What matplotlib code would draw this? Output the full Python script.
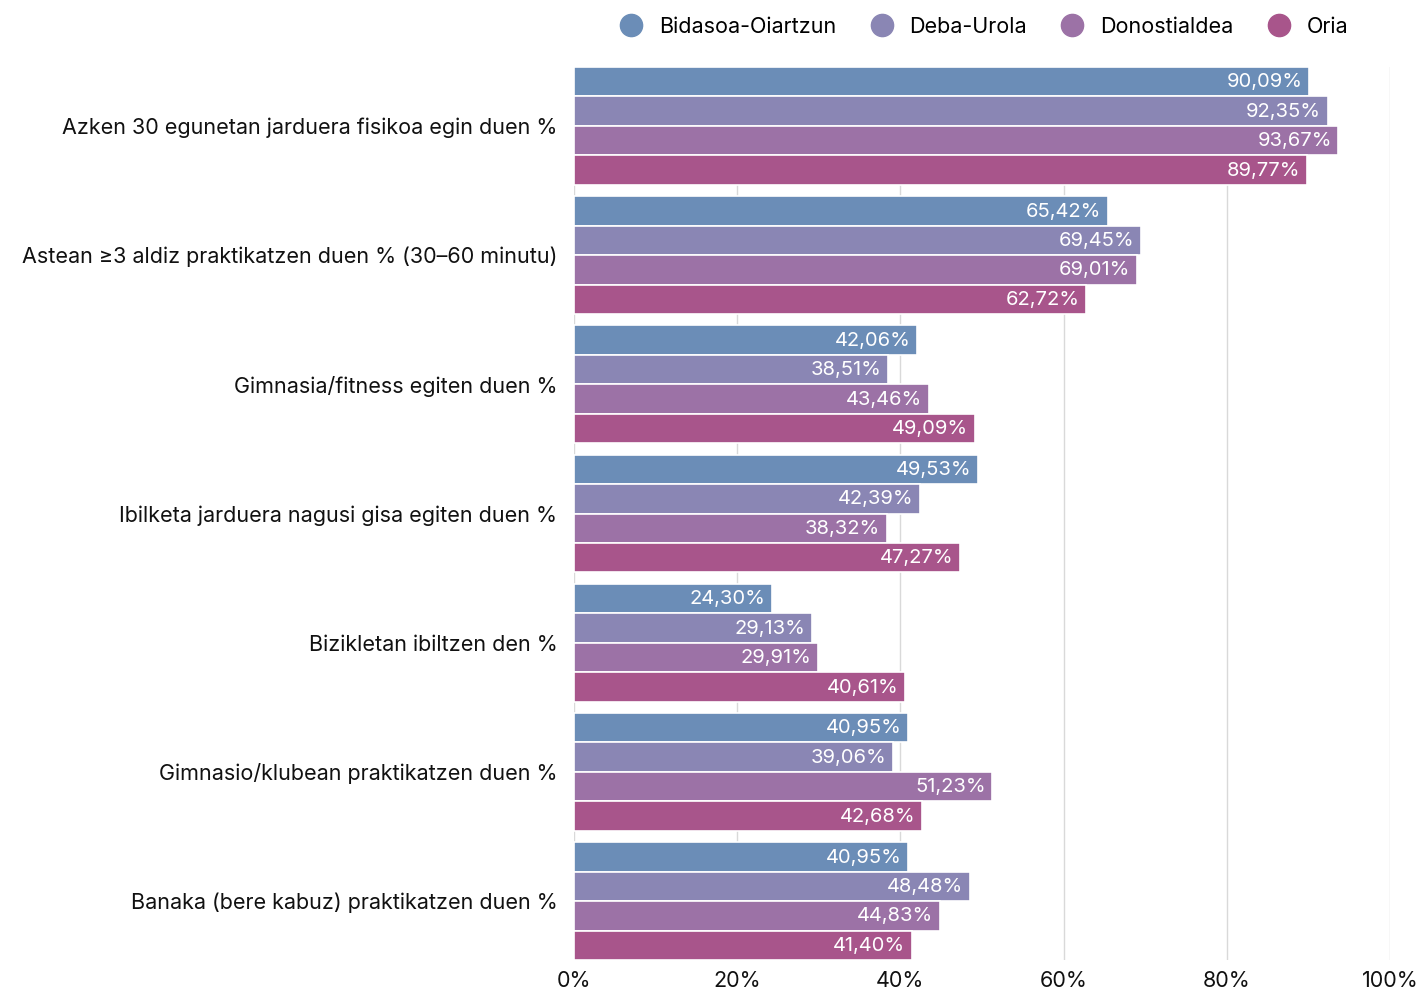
import matplotlib
matplotlib.use("Agg")
import matplotlib.pyplot as plt
from matplotlib.lines import Line2D

plt.rcParams['font.family'] = ['Inter', 'DejaVu Sans']

categories = [
    "Azken 30 egunetan jarduera fisikoa egin duen %",
    "Astean ≥3 aldiz praktikatzen duen % (30–60 minutu)",
    "Gimnasia/fitness egiten duen %",
    "Ibilketa jarduera nagusi gisa egiten duen %",
    "Bizikletan ibiltzen den %",
    "Gimnasio/klubean praktikatzen duen %",
    "Banaka (bere kabuz) praktikatzen duen %",
]
series = ["Bidasoa-Oiartzun", "Deba-Urola", "Donostialdea", "Oria"]
bidasoa = [90.09, 65.42, 42.06, 49.53, 24.30, 40.95, 40.95]
deba = [92.35, 69.45, 38.51, 42.39, 29.13, 39.06, 48.48]
donostialdea = [93.67, 69.01, 43.46, 38.32, 29.91, 51.23, 44.83]
oria = [89.77, 62.72, 49.09, 47.27, 40.61, 42.68, 41.40]
values = [bidasoa, deba, donostialdea, oria]
colors = ["#6b8db7", "#8a86b4", "#9c72a6", "#a8558b"]
xticks = [0, 20, 40, 60, 80, 100]

fig = plt.figure(figsize=(14.21, 9.9), dpi=100)
ax = fig.add_axes([574/1421, 1-960/990, (1390-574)/1421, (960-67)/990])

h = 0.228
for j, (name, vals, c) in enumerate(zip(series, values, colors)):
    for i, v in enumerate(vals):
        y = i + (j - 1.5) * h
        ax.barh(y, v, height=h, color=c, edgecolor="white", linewidth=1.2, zorder=3)
        ax.text(v - 0.8, y + 0.005, f"{v:.2f}%".replace(".", ","), ha="right", va="center",
                color="white", fontsize=14.5, zorder=4)

ax.set_xlim(0, 100)
ax.set_ylim(6.456, -0.456)
ax.set_yticks(range(len(categories)))
ax.set_yticklabels(categories, fontsize=15.5, color="#111111")
ax.set_xticks(xticks)
ax.set_xticklabels([f"{t}%" for t in xticks], fontsize=15.5, color="#111111")
ax.tick_params(axis="both", length=0)
ax.tick_params(axis="y", pad=12)
ax.tick_params(axis="x", pad=8)
for s in ax.spines.values():
    s.set_visible(False)
ax.grid(axis="x", color="#d9d9d9", linewidth=1, zorder=0)
ax.set_axisbelow(True)

handles = [Line2D([0], [0], marker="o", linestyle="", markersize=16, markerfacecolor=c,
                  markeredgecolor=c) for c in colors]
fig.legend(handles, series, loc="center", bbox_to_anchor=(979/1421, 1-27/990), ncol=4,
           frameon=False, fontsize=15.5, handletextpad=0.3, columnspacing=1.1)

fig.savefig("out.png", dpi=100)
